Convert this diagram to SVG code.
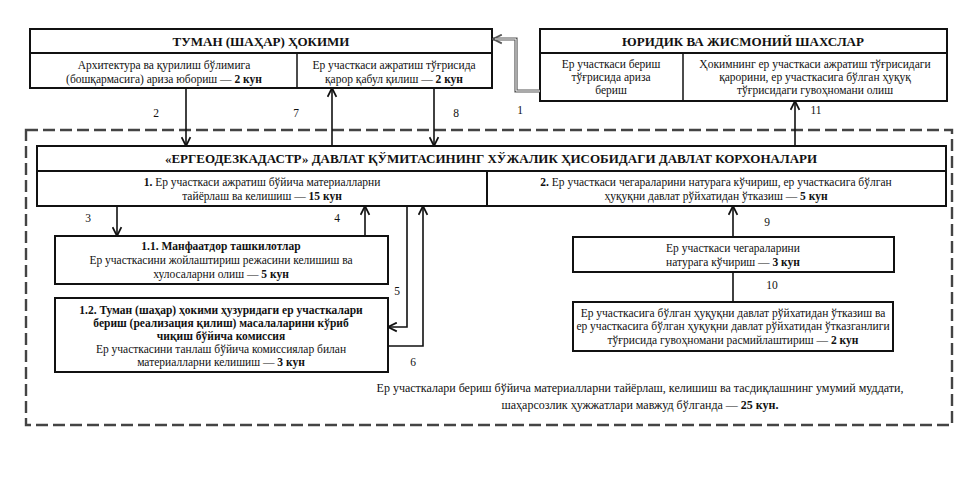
<svg xmlns="http://www.w3.org/2000/svg" width="958" height="477" viewBox="0 0 958 477" font-family="'Liberation Serif', 'Times New Roman', serif">
<style>
text{fill:#111;text-anchor:middle}
.t{font-size:13px;font-weight:bold}
.b{font-size:11.5px}
.s{font-size:12px}
.n{font-size:11.5px}
.bx{fill:#fff;stroke:#111;stroke-width:2}
.ln{fill:none;stroke:#111;stroke-width:1.6}
.bold{font-weight:bold}
</style>
<defs>
<marker id="ah" viewBox="0 0 10 10" refX="9" refY="5" markerWidth="11" markerHeight="11" markerUnits="userSpaceOnUse" orient="auto">
<path d="M1,1 L9,5 L1,9" fill="none" stroke="#111" stroke-width="1.6"/>
</marker>
<marker id="ah2" viewBox="0 0 10 10" refX="9" refY="5" markerWidth="11" markerHeight="11" markerUnits="userSpaceOnUse" orient="auto">
<path d="M1,1 L9,5 L1,9" fill="none" stroke="#555" stroke-width="1.6"/>
</marker>
</defs>
<rect width="958" height="477" fill="#fff"/>

<g id="frame">
<rect x="26" y="130" width="926" height="295" fill="none" stroke="#444" stroke-width="2.4" stroke-dasharray="12,5"/>
</g>

<g id="tuman">
<rect class="bx" x="30" y="29" width="462" height="59"/>
<line x1="30" y1="53" x2="492" y2="53" stroke="#111" stroke-width="2"/>
<line x1="297" y1="53" x2="297" y2="88" stroke="#111" stroke-width="1.5"/>
<text class="t" x="261" y="46">ТУМАН (ШАҲАР) ҲОКИМИ</text>
<text class="b" x="164" y="69">Архитектура ва қурилиш бўлимига</text>
<text class="b" x="164" y="83">(бошқармасига) ариза юбориш — <tspan class="bold">2 кун</tspan></text>
<text class="b" x="394" y="69">Ер участкаси ажратиш тўғрисида</text>
<text class="b" x="394" y="83">қарор қабул қилиш — <tspan class="bold">2 кун</tspan></text>
</g>

<g id="yuridik">
<rect class="bx" x="540" y="29" width="407" height="72"/>
<line x1="540" y1="53" x2="947" y2="53" stroke="#111" stroke-width="2"/>
<line x1="683" y1="53" x2="683" y2="101" stroke="#111" stroke-width="1.5"/>
<text class="t" x="743" y="46">ЮРИДИК ВА ЖИСМОНИЙ ШАХСЛАР</text>
<text class="b" x="611" y="68">Ер участкаси бериш</text>
<text class="b" x="611" y="81">тўғрисида ариза</text>
<text class="b" x="611" y="94">бериш</text>
<text class="b" x="815" y="68">Ҳокимнинг ер участкаси ажратиш тўғрисидаги</text>
<text class="b" x="815" y="81">қарорини, ер участкасига бўлган ҳуқуқ</text>
<text class="b" x="815" y="94">тўғрисидаги гувоҳномани олиш</text>
</g>

<g id="ergeodez">
<rect class="bx" x="37" y="146" width="909" height="60"/>
<line x1="37" y1="171" x2="946" y2="171" stroke="#111" stroke-width="2"/>
<line x1="487" y1="171" x2="487" y2="206" stroke="#111" stroke-width="2"/>
<text class="t" x="491" y="163">«ЕРГЕОДЕЗКАДАСТР» ДАВЛАТ ҚЎМИТАСИНИНГ ХЎЖАЛИК ҲИСОБИДАГИ ДАВЛАТ КОРХОНАЛАРИ</text>
<text class="b" x="262" y="186"><tspan class="bold">1.</tspan> Ер участкаси ажратиш бўйича материалларни</text>
<text class="b" x="262" y="200">тайёрлаш ва келишиш — <tspan class="bold">15 кун</tspan></text>
<text class="b" x="716" y="186"><tspan class="bold">2.</tspan> Ер участкаси чегараларини натурага кўчириш, ер участкасига бўлган</text>
<text class="b" x="716" y="200">ҳуқуқни давлат рўйхатидан ўтказиш — <tspan class="bold">5 кун</tspan></text>
</g>

<g id="box11">
<rect class="bx" x="55" y="236" width="333" height="48"/>
<text class="b bold" x="221" y="250">1.1. Манфаатдор ташкилотлар</text>
<text class="b" x="221" y="264">Ер участкасини жойлаштириш режасини келишиш ва</text>
<text class="b" x="221" y="278">хулосаларни олиш — <tspan class="bold">5 кун</tspan></text>
</g>

<g id="box12">
<rect class="bx" x="55" y="298" width="333" height="74"/>
<text class="b bold" x="221" y="314">1.2. Туман (шаҳар) ҳокими ҳузуридаги ер участкалари</text>
<text class="b bold" x="221" y="327">бериш (реализация қилиш) масалаларини кўриб</text>
<text class="b bold" x="221" y="340">чиқиш бўйича комиссия</text>
<text class="b" x="221" y="353">Ер участкасини танлаш бўйича комиссиялар билан</text>
<text class="b" x="221" y="366">материалларни келишиш — <tspan class="bold">3 кун</tspan></text>
</g>

<g id="natura">
<rect class="bx" x="573" y="237" width="321" height="35"/>
<text class="b" x="733" y="252">Ер участкаси чегараларини</text>
<text class="b" x="733" y="266">натурага кўчириш — <tspan class="bold">3 кун</tspan></text>
</g>

<g id="royxat">
<rect class="bx" x="573" y="302" width="320" height="49"/>
<text class="b" x="733" y="317">Ер участкасига бўлган ҳуқуқни давлат рўйхатидан ўтказиш ва</text>
<text class="b" x="733" y="330">ер участкасига бўлган ҳуқуқни давлат рўйхатидан ўтказганлиги</text>
<text class="b" x="733" y="344">тўғрисида гувоҳномани расмийлаштириш — <tspan class="bold">2 кун</tspan></text>
</g>

<g id="summary">
<text class="s" x="640" y="392">Ер участкалари бериш бўйича материалларни тайёрлаш, келишиш ва тасдиқлашнинг умумий муддати,</text>
<text class="s" x="640" y="409">шаҳарсозлик ҳужжатлари мавжуд бўлганда — <tspan class="bold">25 кун.</tspan></text>
</g>

<g id="connectors">
<path d="M540,91 H516 V39 H493" fill="none" stroke="#555" stroke-width="3.2" marker-end="url(#ah2)"/>
<path d="M540,91 H516 V39 H495" fill="none" stroke="#fff" stroke-width="1"/>
<line class="ln" x1="186" y1="88" x2="186" y2="146" marker-end="url(#ah)"/>
<line class="ln" x1="332" y1="146" x2="332" y2="88" marker-end="url(#ah)"/>
<line class="ln" x1="434" y1="88" x2="434" y2="146" marker-end="url(#ah)"/>
<line class="ln" x1="795" y1="146" x2="795" y2="101" marker-end="url(#ah)"/>
<line class="ln" x1="117" y1="206" x2="117" y2="236" marker-end="url(#ah)"/>
<line class="ln" x1="365" y1="236" x2="365" y2="206" marker-end="url(#ah)"/>
<path class="ln" d="M407,206 V327 H388" marker-end="url(#ah)"/>
<path class="ln" d="M388,346 H423 V206" marker-end="url(#ah)"/>
<line class="ln" x1="733" y1="237" x2="733" y2="206" marker-end="url(#ah)"/>
<line class="ln" x1="733" y1="302" x2="733" y2="272"/>
<text class="n" x="156" y="117">2</text>
<text class="n" x="296" y="117">7</text>
<text class="n" x="456" y="117">8</text>
<text class="n" x="520" y="114">1</text>
<text class="n" x="816" y="114">11</text>
<text class="n" x="88" y="222">3</text>
<text class="n" x="337" y="222">4</text>
<text class="n" x="397" y="295">5</text>
<text class="n" x="413" y="366">6</text>
<text class="n" x="767" y="226">9</text>
<text class="n" x="772" y="289">10</text>
</g>
</svg>
